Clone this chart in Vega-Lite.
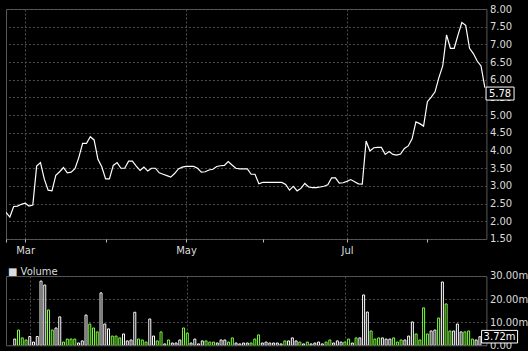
{
  "$schema": "https://vega.github.io/schema/vega-lite/v6.json",
  "background": "#000000",
  "padding": {"left": 5, "top": 3, "right": 0, "bottom": 0},
  "config": {
    "view": {"stroke": "#5a5a5a", "strokeWidth": 1},
    "axis": {"labelFont": "DejaVu Sans", "labelFontSize": 10, "labelColor": "#dcdcdc", "gridColor": "#4d4d4d", "gridDash": [2, 2], "gridWidth": 1, "domain": false, "title": null}
  },
  "datasets": {
    "quotes": [
      {"i": -1, "price": 2.25},
      {"i": 0, "price": 2.12, "volume": 2700000, "dir": "up"},
      {"i": 1, "price": 2.42, "volume": 6600000, "dir": "down"},
      {"i": 2, "price": 2.43, "volume": 3200000, "dir": "down"},
      {"i": 3, "price": 2.48, "volume": 2300000, "dir": "down"},
      {"i": 4, "price": 2.51, "volume": 3800000, "dir": "up"},
      {"i": 5, "price": 2.43, "volume": 1400000, "dir": "up"},
      {"i": 6, "price": 2.46, "volume": 3800000, "dir": "up"},
      {"i": 7, "price": 3.56, "volume": 27800000, "dir": "up"},
      {"i": 8, "price": 3.66, "volume": 26100000, "dir": "up"},
      {"i": 9, "price": 3.19, "volume": 15300000, "dir": "down"},
      {"i": 10, "price": 2.88, "volume": 6600000, "dir": "down"},
      {"i": 11, "price": 2.86, "volume": 7500000, "dir": "up"},
      {"i": 12, "price": 3.30, "volume": 12300000, "dir": "up"},
      {"i": 13, "price": 3.40, "volume": 1400000, "dir": "down"},
      {"i": 14, "price": 3.52, "volume": 2700000, "dir": "down"},
      {"i": 15, "price": 3.37, "volume": 2700000, "dir": "down"},
      {"i": 16, "price": 3.39, "volume": 2700000, "dir": "down"},
      {"i": 17, "price": 3.49, "volume": 1000000, "dir": "up"},
      {"i": 18, "price": 3.80, "volume": 1900000, "dir": "up"},
      {"i": 19, "price": 4.20, "volume": 13100000, "dir": "up"},
      {"i": 20, "price": 4.20, "volume": 9200000, "dir": "down"},
      {"i": 21, "price": 4.39, "volume": 7500000, "dir": "down"},
      {"i": 22, "price": 4.30, "volume": 5800000, "dir": "down"},
      {"i": 23, "price": 3.75, "volume": 22700000, "dir": "up"},
      {"i": 24, "price": 3.54, "volume": 9200000, "dir": "up"},
      {"i": 25, "price": 3.20, "volume": 7100000, "dir": "up"},
      {"i": 26, "price": 3.20, "volume": 4000000, "dir": "down"},
      {"i": 27, "price": 3.58, "volume": 4000000, "dir": "down"},
      {"i": 28, "price": 3.66, "volume": 3200000, "dir": "down"},
      {"i": 29, "price": 3.50, "volume": 4900000, "dir": "up"},
      {"i": 30, "price": 3.50, "volume": 1900000, "dir": "up"},
      {"i": 31, "price": 3.70, "volume": 2300000, "dir": "up"},
      {"i": 32, "price": 3.70, "volume": 14300000, "dir": "up"},
      {"i": 33, "price": 3.56, "volume": 2700000, "dir": "down"},
      {"i": 34, "price": 3.44, "volume": 2300000, "dir": "down"},
      {"i": 35, "price": 3.53, "volume": 1400000, "dir": "down"},
      {"i": 36, "price": 3.42, "volume": 11400000, "dir": "up"},
      {"i": 37, "price": 3.50, "volume": 4000000, "dir": "up"},
      {"i": 38, "price": 3.50, "volume": 1900000, "dir": "down"},
      {"i": 39, "price": 3.37, "volume": 5800000, "dir": "down"},
      {"i": 40, "price": 3.33, "volume": 600000, "dir": "up"},
      {"i": 41, "price": 3.29, "volume": 2300000, "dir": "down"},
      {"i": 42, "price": 3.25, "volume": 1000000, "dir": "up"},
      {"i": 43, "price": 3.35, "volume": 1000000, "dir": "up"},
      {"i": 44, "price": 3.48, "volume": 2300000, "dir": "up"},
      {"i": 45, "price": 3.53, "volume": 7500000, "dir": "down"},
      {"i": 46, "price": 3.55, "volume": 5300000, "dir": "down"},
      {"i": 47, "price": 3.55, "volume": 1000000, "dir": "up"},
      {"i": 48, "price": 3.55, "volume": 2700000, "dir": "up"},
      {"i": 49, "price": 3.50, "volume": 600000, "dir": "up"},
      {"i": 50, "price": 3.39, "volume": 1900000, "dir": "up"},
      {"i": 51, "price": 3.40, "volume": 1900000, "dir": "down"},
      {"i": 52, "price": 3.45, "volume": 1400000, "dir": "down"},
      {"i": 53, "price": 3.47, "volume": 1400000, "dir": "down"},
      {"i": 54, "price": 3.55, "volume": 1000000, "dir": "up"},
      {"i": 55, "price": 3.57, "volume": 2300000, "dir": "up"},
      {"i": 56, "price": 3.58, "volume": 2300000, "dir": "up"},
      {"i": 57, "price": 3.69, "volume": 1400000, "dir": "down"},
      {"i": 58, "price": 3.59, "volume": 3200000, "dir": "down"},
      {"i": 59, "price": 3.50, "volume": 1000000, "dir": "up"},
      {"i": 60, "price": 3.48, "volume": 600000, "dir": "up"},
      {"i": 61, "price": 3.48, "volume": 1000000, "dir": "up"},
      {"i": 62, "price": 3.48, "volume": 1000000, "dir": "up"},
      {"i": 63, "price": 3.33, "volume": 1000000, "dir": "down"},
      {"i": 64, "price": 3.33, "volume": 2700000, "dir": "down"},
      {"i": 65, "price": 3.06, "volume": 4500000, "dir": "down"},
      {"i": 66, "price": 3.10, "volume": 1000000, "dir": "up"},
      {"i": 67, "price": 3.10, "volume": 1400000, "dir": "up"},
      {"i": 68, "price": 3.10, "volume": 1000000, "dir": "up"},
      {"i": 69, "price": 3.10, "volume": 1000000, "dir": "up"},
      {"i": 70, "price": 3.10, "volume": 1000000, "dir": "up"},
      {"i": 71, "price": 3.10, "volume": 600000, "dir": "up"},
      {"i": 72, "price": 3.04, "volume": 1900000, "dir": "down"},
      {"i": 73, "price": 2.88, "volume": 1900000, "dir": "up"},
      {"i": 74, "price": 2.99, "volume": 3200000, "dir": "up"},
      {"i": 75, "price": 2.86, "volume": 1900000, "dir": "up"},
      {"i": 76, "price": 2.93, "volume": 1400000, "dir": "down"},
      {"i": 77, "price": 3.07, "volume": 600000, "dir": "up"},
      {"i": 78, "price": 2.97, "volume": 1400000, "dir": "down"},
      {"i": 79, "price": 2.95, "volume": 600000, "dir": "up"},
      {"i": 80, "price": 2.95, "volume": 1000000, "dir": "up"},
      {"i": 81, "price": 2.97, "volume": 1400000, "dir": "up"},
      {"i": 82, "price": 2.99, "volume": 600000, "dir": "up"},
      {"i": 83, "price": 3.03, "volume": 1400000, "dir": "down"},
      {"i": 84, "price": 3.23, "volume": 2300000, "dir": "down"},
      {"i": 85, "price": 3.23, "volume": 1000000, "dir": "up"},
      {"i": 86, "price": 3.08, "volume": 1900000, "dir": "up"},
      {"i": 87, "price": 3.09, "volume": 1400000, "dir": "up"},
      {"i": 88, "price": 3.13, "volume": 1400000, "dir": "down"},
      {"i": 89, "price": 3.18, "volume": 2700000, "dir": "down"},
      {"i": 90, "price": 3.12, "volume": 1000000, "dir": "up"},
      {"i": 91, "price": 3.06, "volume": 3200000, "dir": "down"},
      {"i": 92, "price": 3.05, "volume": 3200000, "dir": "up"},
      {"i": 93, "price": 4.27, "volume": 21800000, "dir": "up"},
      {"i": 94, "price": 3.99, "volume": 14400000, "dir": "up"},
      {"i": 95, "price": 4.08, "volume": 6200000, "dir": "down"},
      {"i": 96, "price": 4.09, "volume": 2700000, "dir": "down"},
      {"i": 97, "price": 4.09, "volume": 3200000, "dir": "down"},
      {"i": 98, "price": 3.89, "volume": 3200000, "dir": "up"},
      {"i": 99, "price": 3.97, "volume": 2700000, "dir": "up"},
      {"i": 100, "price": 3.89, "volume": 2700000, "dir": "up"},
      {"i": 101, "price": 3.87, "volume": 3200000, "dir": "down"},
      {"i": 102, "price": 3.90, "volume": 1400000, "dir": "down"},
      {"i": 103, "price": 4.06, "volume": 2300000, "dir": "down"},
      {"i": 104, "price": 4.13, "volume": 2300000, "dir": "up"},
      {"i": 105, "price": 4.33, "volume": 4000000, "dir": "up"},
      {"i": 106, "price": 4.81, "volume": 10100000, "dir": "up"},
      {"i": 107, "price": 4.76, "volume": 4900000, "dir": "down"},
      {"i": 108, "price": 4.69, "volume": 2300000, "dir": "down"},
      {"i": 109, "price": 5.38, "volume": 16200000, "dir": "down"},
      {"i": 110, "price": 5.51, "volume": 4900000, "dir": "down"},
      {"i": 111, "price": 5.66, "volume": 6200000, "dir": "up"},
      {"i": 112, "price": 6.06, "volume": 6600000, "dir": "up"},
      {"i": 113, "price": 6.39, "volume": 11800000, "dir": "down"},
      {"i": 114, "price": 7.27, "volume": 27400000, "dir": "up"},
      {"i": 115, "price": 6.89, "volume": 17900000, "dir": "down"},
      {"i": 116, "price": 6.89, "volume": 6200000, "dir": "down"},
      {"i": 117, "price": 7.27, "volume": 6200000, "dir": "up"},
      {"i": 118, "price": 7.62, "volume": 9200000, "dir": "up"},
      {"i": 119, "price": 7.54, "volume": 5800000, "dir": "up"},
      {"i": 120, "price": 6.89, "volume": 5800000, "dir": "down"},
      {"i": 121, "price": 6.74, "volume": 6200000, "dir": "down"},
      {"i": 122, "price": 6.53, "volume": 2700000, "dir": "down"},
      {"i": 123, "price": 6.39, "volume": 2300000, "dir": "up"},
      {"i": 124, "price": 5.78, "volume": 3720000, "dir": "up"}
    ]
  },
  "bounds": "flush",
  "spacing": 37,
  "vconcat": [
    {
      "width": 480.4,
      "height": 230,
      "data": {"name": "quotes"},
      "encoding": {
        "x": {
          "field": "i", "type": "quantitative",
          "scale": {"domain": [-1, 124.4], "nice": false, "zero": false},
          "axis": {
            "values": [-1, 4, 25, 46, 66, 88, 109],
            "labelExpr": "datum.value == 4 ? 'Mar' : datum.value == 46 ? 'May' : datum.value == 88 ? 'Jul' : ''",
            "grid": true,
            "gridOpacity": {"condition": {"test": "datum.value == 4 || datum.value == 46 || datum.value == 88", "value": 1}, "value": 0},
            "ticks": true, "tickSize": 3, "tickColor": "#bbbbbb",
            "labelPadding": 4, "labelFlush": false, "labelOverlap": false
          }
        },
        "y": {
          "field": "price", "type": "quantitative",
          "scale": {"domain": [1.5, 8], "nice": false, "zero": false},
          "axis": {
            "orient": "right",
            "values": [1.5, 2, 2.5, 3, 3.5, 4, 4.5, 5, 5.5, 6, 6.5, 7, 7.5, 8],
            "format": ".2f", "ticks": false, "labelPadding": 3, "grid": true
          }
        }
      },
      "layer": [
        {"mark": {"type": "line", "color": "#ffffff", "strokeWidth": 1.2, "clip": true}},
        {
          "transform": [{"filter": "datum.i == 124"}],
          "mark": {"type": "point", "shape": "M-1,-0.464H1V0.464H-1Z", "size": 784, "filled": true, "fill": "#000000", "stroke": "#ffffff", "strokeWidth": 1, "opacity": 1, "xOffset": 15.2, "yOffset": 6, "clip": false}
        },
        {
          "transform": [{"filter": "datum.i == 124"}],
          "mark": {"type": "text", "color": "#ffffff", "font": "DejaVu Sans", "fontSize": 10, "align": "center", "baseline": "middle", "xOffset": 15.2, "yOffset": 6.5, "clip": false},
          "encoding": {"text": {"field": "price", "type": "quantitative", "format": ".2f"}}
        }
      ]
    },
    {
      "width": 480.4,
      "height": 69.3,
      "data": {"name": "quotes"},
      "title": {"text": "■ Volume", "anchor": "start", "orient": "top", "frame": "group", "offset": -14, "dx": 2, "fontSize": 10, "fontWeight": "normal", "font": "DejaVu Sans", "color": "#dcdcdc", "baseline": "alphabetic"},
      "encoding": {
        "x": {
          "field": "i", "type": "quantitative",
          "scale": {"domain": [-1, 124.4], "nice": false, "zero": false},
          "axis": {
            "values": [4, 46, 88], "labels": false, "ticks": false, "grid": true
          }
        },
        "y": {
          "field": "volume", "type": "quantitative",
          "scale": {"domain": [0, 30000000], "nice": false},
          "axis": {
            "orient": "right",
            "values": [0, 10000000, 20000000, 30000000],
            "labelExpr": "datum.value == 0 ? '0.00' : format(datum.value / 1000000, '.2f') + 'm'",
            "ticks": false, "labelPadding": 3, "grid": true
          }
        }
      },
      "layer": [
        {
          "transform": [{"filter": "isValid(datum.volume)"}],
          "mark": {"type": "bar", "size": 2, "fill": "#000000", "strokeWidth": 1, "clip": true},
          "encoding": {
            "stroke": {"field": "dir", "type": "nominal", "scale": {"domain": ["up", "down"], "range": ["#ffffff", "#80ff40"]}, "legend": null}
          }
        },
        {
          "transform": [{"filter": "datum.i == 124"}],
          "mark": {"type": "point", "shape": "M-1,-0.35H1V0.35H-1Z", "size": 1296, "filled": true, "fill": "#000000", "stroke": "#ffffff", "strokeWidth": 1, "opacity": 1, "xOffset": 19.7, "yOffset": 0, "clip": false}
        },
        {
          "transform": [{"filter": "datum.i == 124"}, {"calculate": "format(datum.volume / 1000000, '.2f') + 'm'", "as": "vol_label"}],
          "mark": {"type": "text", "color": "#ffffff", "font": "DejaVu Sans", "fontSize": 10, "align": "center", "baseline": "middle", "xOffset": 19.7, "yOffset": 0.5, "clip": false},
          "encoding": {"text": {"field": "vol_label", "type": "nominal"}}
        }
      ]
    }
  ]
}
